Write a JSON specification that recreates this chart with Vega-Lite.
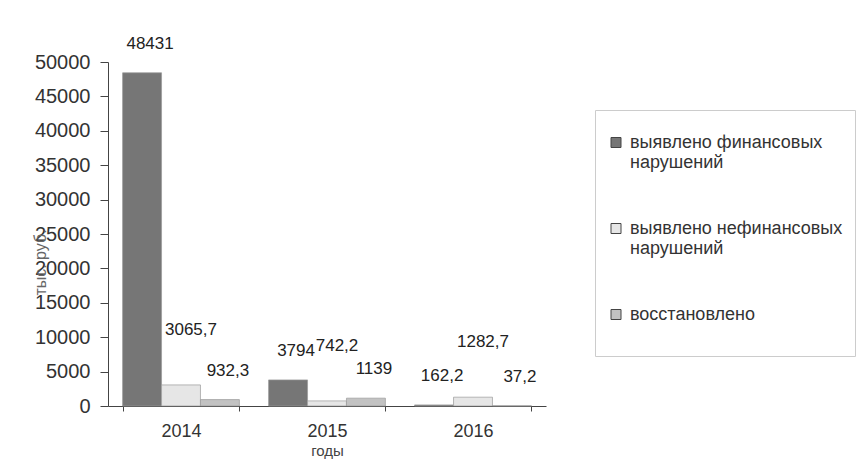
{
  "$schema": "https://vega.github.io/schema/vega-lite/v6.json",
  "width": 438,
  "height": 344,
  "autosize": "none",
  "padding": {"left": 108, "top": 62, "right": 310, "bottom": 60},
  "background": "white",
  "config": {
    "view": {"stroke": null},
    "font": "Liberation Sans",
    "axis": {"domainColor": "#444", "tickColor": "#444", "labelColor": "#333", "titleColor": "#444", "grid": false, "labelFont": "Liberation Sans", "titleFont": "Liberation Sans", "titleFontWeight": "normal"}
  },
  "data": {
    "values": [
      {"year": "2014", "series": "выявлено финансовых нарушений", "value": 48431, "label": "48431"},
      {"year": "2014", "series": "выявлено нефинансовых нарушений", "value": 3065.7, "label": "3065,7"},
      {"year": "2014", "series": "восстановлено", "value": 932.3, "label": "932,3"},
      {"year": "2015", "series": "выявлено финансовых нарушений", "value": 3794, "label": "3794"},
      {"year": "2015", "series": "выявлено нефинансовых нарушений", "value": 742.2, "label": "742,2"},
      {"year": "2015", "series": "восстановлено", "value": 1139, "label": "1139"},
      {"year": "2016", "series": "выявлено финансовых нарушений", "value": 162.2, "label": "162,2"},
      {"year": "2016", "series": "выявлено нефинансовых нарушений", "value": 1282.7, "label": "1282,7"},
      {"year": "2016", "series": "восстановлено", "value": 37.2, "label": "37,2"}
    ]
  },
  "encoding": {
    "x": {
      "field": "year", "type": "nominal",
      "scale": {"paddingInner": 0.2, "paddingOuter": 0.1},
      "axis": {"title": "годы", "labelAngle": 0, "labelFontSize": 18, "labelPadding": 11, "tickSize": 5, "tickBand": "extent", "titleFontSize": 15, "titlePadding": 3}
    },
    "xOffset": {"field": "series", "type": "nominal", "sort": ["выявлено финансовых нарушений", "выявлено нефинансовых нарушений", "восстановлено"]},
    "y": {
      "field": "value", "type": "quantitative",
      "scale": {"domain": [0, 50000]},
      "axis": {"title": "тыс. руб.", "values": [0,5000,10000,15000,20000,25000,30000,35000,40000,45000,50000], "format": "d", "labelFontSize": 20, "labelPadding": 10, "tickSize": 8, "titleFontSize": 16, "titleColor": "#666", "titleX": -68, "titleY": 200, "titleAlign": "center", "titleBaseline": "middle"}
    }
  },
  "layer": [
    {
      "mark": {"type": "bar", "stroke": "#9a9a9a", "strokeWidth": 0.7},
      "encoding": {
        "color": {
          "field": "series", "type": "nominal",
          "scale": {"domain": ["выявлено финансовых нарушений", "выявлено нефинансовых нарушений", "восстановлено"], "range": ["#767676", "#e6e6e6", "#c2c2c2"]},
          "legend": {
            "title": " ",
            "titleFontSize": 1,
            "titlePadding": 2,
            "orient": "none",
            "legendX": 487,
            "legendY": 48,
            "direction": "vertical",
            "padding": 12,
            "strokeColor": "#cccccc",
            "fillColor": "white",
            "symbolType": "M-1,0.7H1V2.7H-1Z",
            "symbolSize": 100,
            "symbolStrokeColor": "#444",
            "symbolStrokeWidth": 1,
            "symbolOpacity": 1,
            "labelFont": "Liberation Sans",
            "labelFontSize": 18,
            "labelColor": "#333",
            "labelLimit": 300,
            "labelOffset": 5,
            "labelBaseline": "top",
            "rowPadding": 39,
            "labelExpr": "datum.label == 'выявлено финансовых нарушений' ? ['выявлено финансовых', 'нарушений'] : datum.label == 'выявлено нефинансовых нарушений' ? ['выявлено нефинансовых', 'нарушений'] : ['восстановлено', '']"
          }
        }
      }
    },
    {
      "mark": {"type": "text", "baseline": "bottom", "dy": -20, "dx": 8, "fontSize": 17, "color": "#222", "font": "Liberation Sans"},
      "transform": [{"filter": "datum.series != 'выявлено нефинансовых нарушений'"}],
      "encoding": {"text": {"field": "label"}}
    },
    {
      "mark": {"type": "text", "baseline": "bottom", "dy": -46, "dx": 10, "fontSize": 17, "color": "#222", "font": "Liberation Sans"},
      "transform": [{"filter": "datum.series == 'выявлено нефинансовых нарушений'"}],
      "encoding": {"text": {"field": "label"}}
    }
  ]
}
